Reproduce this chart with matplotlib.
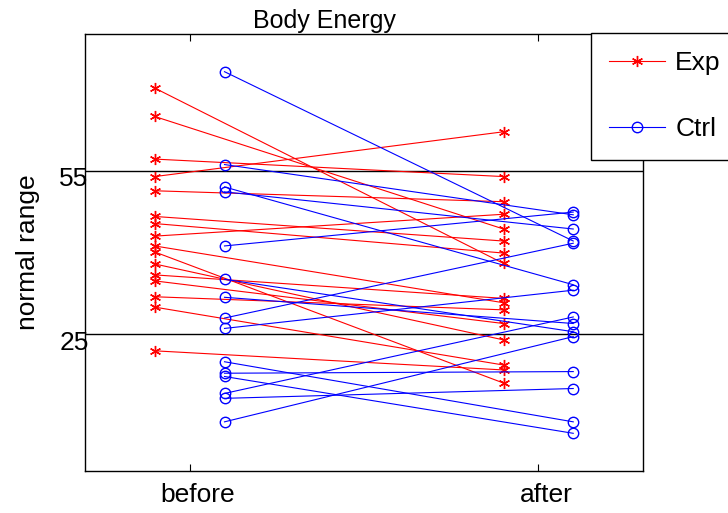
import matplotlib
matplotlib.use("Agg")
import matplotlib.pyplot as plt
from matplotlib.transforms import ScaledTranslation

plt.rcParams["font.family"] = ["Liberation Sans", "DejaVu Sans"]

# values (one entry per subject)
exp_before = [70.1, 64.9, 57.1, 53.9, 51.3, 46.6, 45.3, 43.0,
              41.2, 40.1, 37.9, 35.9, 34.8, 31.9, 30.0, 22.0]
exp_after = [38.0, 44.3, 53.9, 62.1, 49.3, 42.1, 39.9, 47.0,
             30.8, 16.1, 24.0, 31.6, 27.0, 29.5, 19.4, 18.5]
ctrl_before = [73.1, 56.1, 52.0, 51.1, 41.2, 35.1, 31.8, 28.0,
               26.1, 20.0, 17.9, 17.3, 14.2, 13.3, 9.0]
ctrl_after = [42.1, 46.9, 34.1, 44.3, 47.4, 25.5, 27.0, 41.7,
              33.1, 9.0, 18.2, 6.9, 28.2, 15.1, 24.6]
conditions = ["before", "after"]
ref_levels = [25, 55]

star = (6, 2, 0)

fig = plt.figure(figsize=(7.28, 5.13), dpi=100)
ax = fig.add_axes([85 / 728, 42 / 513, 558 / 728, 437 / 513])

for y in ref_levels:
    ax.axhline(y, color="black", lw=1.0, zorder=1)

for i, (b, a) in enumerate(zip(exp_before, exp_after)):
    ax.plot([0.9, 1.9], [b, a], color="red", lw=0.8, marker=star, ms=8,
            mew=1.0, label="Exp" if i == 0 else None, zorder=2)

for i, (b, a) in enumerate(zip(ctrl_before, ctrl_after)):
    ax.plot([1.1, 2.1], [b, a], color="blue", lw=0.8, marker="o", ms=7.5,
            mfc="none", mew=1.0, label="Ctrl" if i == 0 else None, zorder=3)

ax.set_xlim(0.7, 2.3)
ax.set_ylim(0, 80)
ax.set_xticks([1, 2])
ax.set_xticklabels(conditions, fontsize=19)
ax.set_yticks(ref_levels)
ax.set_yticklabels([str(v) for v in ref_levels], fontsize=19)
ax.tick_params(axis="x", direction="in", top=True, length=5, pad=9)
ax.tick_params(axis="y", direction="in", right=True, length=0, pad=1)
for lab in ax.get_xticklabels():
    lab.set_transform(lab.get_transform() + ScaledTranslation(0.08, 0, fig.dpi_scale_trans))
for lab in ax.get_yticklabels():
    lab.set_transform(lab.get_transform() + ScaledTranslation(0.05, -0.06, fig.dpi_scale_trans))
for sp in ax.spines.values():
    sp.set_linewidth(1.0)

ax.set_ylabel("normal range", fontsize=19, labelpad=14)
fig.text(324 / 728, 1 - 21 / 513, "Body Energy", fontsize=18,
         ha="center", va="center")

leg = ax.legend(loc="upper left", bbox_to_anchor=(590.7 / 728, 1 - 32.7 / 513),
                bbox_transform=fig.transFigure, borderaxespad=0, fontsize=19,
                fancybox=False, framealpha=1, edgecolor="black",
                borderpad=0.7, handlelength=2.1, handletextpad=0.4,
                labelspacing=1.6, numpoints=1)
leg.get_frame().set_linewidth(1.0)

fig.savefig("out.png", dpi=100)
